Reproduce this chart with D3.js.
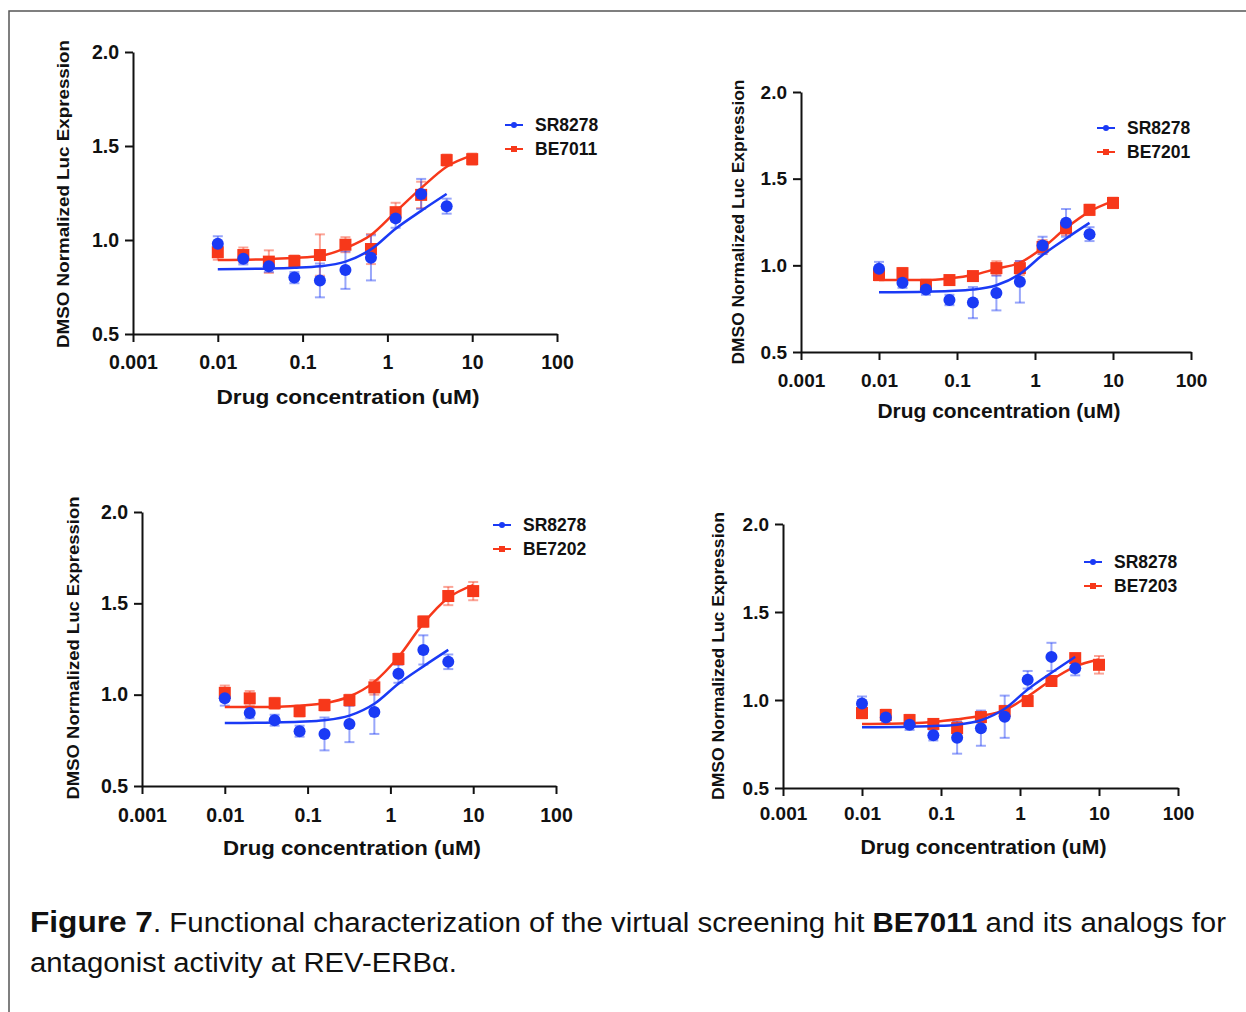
<!DOCTYPE html>
<html>
<head>
<meta charset="utf-8">
<script src="https://cdn.jsdelivr.net/npm/d3@7"></script>
<style>
  body { margin: 0; background: #fff; }
  svg { display: block; }
</style>
</head>
<body>
<svg id="fig" width="1246" height="1012"></svg>
<script>
// Data

const conc = [0.01, 0.02, 0.04, 0.08, 0.16, 0.32, 0.64, 1.25, 2.5, 5, 10];
const xTicks = [0.001, 0.01, 0.1, 1, 10, 100];
const xTickLabels = ["0.001", "0.01", "0.1", "1", "10", "100"];
const yTicks = [0.5, 1.0, 1.5, 2.0];

// SR8278 is the same reference compound in every panel (10 doses, up to 5 uM)
const refName = "SR8278";
const refMean = [0.98, 0.90, 0.86, 0.80, 0.785, 0.84, 0.905, 1.115, 1.245, 1.18];
const refErr  = [0.04, 0.03, 0.03, 0.03, 0.09, 0.10, 0.12, 0.05, 0.08, 0.04];
const refCurve = [0.845, 0.848, 0.852, 0.86, 0.885, 0.95, 1.06, 1.155, 1.245];
const refCurveX = [0.01, 0.04, 0.08, 0.16, 0.32, 0.64, 1.25, 2.5, 5];

const names = ["BE7011", "BE7201", "BE7202", "BE7203"];

const be7011Mean = [0.935, 0.92, 0.885, 0.888, 0.92, 0.975, 0.952, 1.148, 1.24, 1.425, 1.43];
const be7011Err  = [0.04, 0.04, 0.06, 0.03, 0.11, 0.04, 0.08, 0.05, 0.07, 0.03, 0.03];
const be7011Curve = [0.893, 0.898, 0.905, 0.915, 0.957, 1.027, 1.15, 1.276, 1.39, 1.45];

const be7201Mean = [0.944, 0.955, 0.887, 0.915, 0.938, 0.984, 0.984, 1.106, 1.215, 1.32, 1.36];
const be7201Err  = [0.03, 0.03, 0.03, 0.02, 0.02, 0.04, 0.04, 0.04, 0.04, 0.03, 0.03];
const be7201Curve = [0.915, 0.915, 0.925, 0.944, 0.98, 1.015, 1.1, 1.215, 1.31, 1.37];

const be7202Mean = [1.01, 0.98, 0.953, 0.91, 0.943, 0.97, 1.04, 1.195, 1.40, 1.54, 1.567];
const be7202Err  = [0.04, 0.04, 0.03, 0.03, 0.03, 0.03, 0.04, 0.03, 0.03, 0.05, 0.05];
const be7202Curve = [0.933, 0.933, 0.94, 0.953, 0.99, 1.07, 1.206, 1.39, 1.53, 1.6];

const be7203Mean = [0.926, 0.915, 0.886, 0.864, 0.84, 0.903, 0.937, 0.994, 1.108, 1.238, 1.2];
const be7203Err  = [0.03, 0.03, 0.03, 0.02, 0.04, 0.03, 0.03, 0.02, 0.02, 0.02, 0.05];
const be7203Curve = [0.864, 0.868, 0.875, 0.89, 0.91, 0.943, 1.02, 1.114, 1.19, 1.23];

const testCurveX = [0.01, 0.04, 0.08, 0.16, 0.32, 0.64, 1.25, 2.5, 5, 10];

const testMeans = [be7011Mean, be7201Mean, be7202Mean, be7203Mean];
const testErrs = [be7011Err, be7201Err, be7202Err, be7203Err];
const testCurves = [be7011Curve, be7201Curve, be7202Curve, be7203Curve];

// Panel placement on the page
const panels = [
    {x0: 133, x1: 557, yTop: 52, yBot: 334, tickY: 362, titleY: 397, titleW: 263, ytX: 63, ytC: 194, ytW: 308, lx: 505, ly: 125, fs: 19.5},
    {x0: 801, x1: 1191, yTop: 92, yBot: 352, tickY: 380, titleY: 411, titleW: 243, ytX: 738, ytC: 222, ytW: 285, lx: 1097, ly: 128, fs: 19},
    {x0: 142, x1: 556, yTop: 512, yBot: 786, tickY: 815, titleY: 848, titleW: 258, ytX: 73, ytC: 648, ytW: 303, lx: 493, ly: 525, fs: 19.5},
    {x0: 783, x1: 1178, yTop: 524, yBot: 788, tickY: 813, titleY: 847, titleW: 246, ytX: 718, ytC: 656, ytW: 288, lx: 1084, ly: 562, fs: 19}
];

const blue = "#1a3af5";
const red = "#f7381a";
const font = "'Liberation Sans', Arial, sans-serif";

const svg = d3.select("#fig");

// frame
svg.append("rect")
    .attr("x", 9).attr("y", 11)
    .attr("width", 1260).attr("height", 1020)
    .attr("fill", "none")
    .attr("stroke", "#555")
    .attr("stroke-width", 1.5);

panels.forEach((p, i) => {

    const x = d3.scaleLog().domain([0.001, 100]).range([p.x0, p.x1]);
    const y = d3.scaleLinear().domain([0.5, 2.0]).range([p.yBot, p.yTop]);
    const g = svg.append("g");

    // axes
    const xAxis = g.append("g")
        .attr("transform", `translate(0,${p.yBot})`)
        .call(d3.axisBottom(x)
            .tickValues(xTicks)
            .tickFormat((d, k) => xTickLabels[k])
            .tickSize(8)
            .tickSizeOuter(0));

    xAxis.selectAll("text")
        .attr("y", p.tickY - p.yBot)
        .attr("dy", "0.35em");

    const yAxis = g.append("g")
        .attr("transform", `translate(${p.x0},0)`)
        .call(d3.axisLeft(y)
            .tickValues(yTicks)
            .tickFormat(d3.format(".1f"))
            .tickSize(8)
            .tickPadding(6)
            .tickSizeOuter(0));

    [xAxis, yAxis].forEach(a => {
        a.select(".domain").attr("stroke", "#111").attr("stroke-width", 2);
        a.selectAll(".tick line").attr("stroke", "#111").attr("stroke-width", 2);
        a.selectAll("text")
            .attr("fill", "#111")
            .style("font-family", font)
            .style("font-weight", "bold")
            .style("font-size", p.fs + "px");
    });

    // axis titles
    g.append("text")
        .attr("x", (x(0.01) + x(10)) / 2 + 3)
        .attr("y", p.titleY)
        .attr("dy", "0.35em")
        .attr("text-anchor", "middle")
        .attr("textLength", p.titleW)
        .attr("lengthAdjust", "spacingAndGlyphs")
        .style("font-family", font)
        .style("font-weight", "bold")
        .style("font-size", "21px")
        .attr("fill", "#111")
        .text("Drug concentration (uM)");

    g.append("text")
        .attr("transform", `translate(${p.ytX},${p.ytC}) rotate(-90)`)
        .attr("dy", "0.35em")
        .attr("text-anchor", "middle")
        .attr("textLength", p.ytW)
        .attr("lengthAdjust", "spacingAndGlyphs")
        .style("font-family", font)
        .style("font-weight", "bold")
        .style("font-size", "17px")
        .attr("fill", "#111")
        .text("DMSO Normalized Luc Expression");

    const line = d3.line()
        .x(d => x(d[0]))
        .y(d => y(d[1]))
        .curve(d3.curveMonotoneX);

    const series = [
        {mean: testMeans[i], err: testErrs[i], curve: d3.zip(testCurveX, testCurves[i]), color: red, shape: "square"},
        {mean: refMean, err: refErr, curve: d3.zip(refCurveX, refCurve), color: blue, shape: "circle"}
    ];

    // error bars first, faded
    series.forEach(s => {
        const pts = s.mean.map((m, k) => ({c: conc[k], m: m, e: s.err[k]}));
        const eb = g.append("g")
            .attr("stroke", s.color)
            .attr("stroke-opacity", 0.45)
            .attr("stroke-width", 2);
        pts.forEach(d => {
            eb.append("line")
                .attr("x1", x(d.c)).attr("x2", x(d.c))
                .attr("y1", y(d.m - d.e)).attr("y2", y(d.m + d.e));
            [d.m - d.e, d.m + d.e].forEach(v => {
                eb.append("line")
                    .attr("x1", x(d.c) - 5).attr("x2", x(d.c) + 5)
                    .attr("y1", y(v)).attr("y2", y(v));
            });
        });
    });

    series.forEach(s => {
        g.append("path")
            .datum(s.curve)
            .attr("fill", "none")
            .attr("stroke", s.color)
            .attr("stroke-width", 2.5)
            .attr("d", line);

        const pts = s.mean.map((m, k) => ({c: conc[k], m: m}));
        if (s.shape === "circle") {
            g.selectAll(null)
                .data(pts)
                .join("circle")
                .attr("cx", d => x(d.c))
                .attr("cy", d => y(d.m))
                .attr("r", 6)
                .attr("fill", s.color);
        } else {
            g.selectAll(null)
                .data(pts)
                .join("rect")
                .attr("x", d => x(d.c) - 6)
                .attr("y", d => y(d.m) - 6)
                .attr("width", 12)
                .attr("height", 12)
                .attr("fill", s.color);
        }
    });

    // legend
    const legend = [
        {name: refName, color: blue, shape: "circle"},
        {name: names[i], color: red, shape: "square"}
    ];
    legend.forEach((d, k) => {
        const ly = p.ly + k * 24;
        g.append("line")
            .attr("x1", p.lx).attr("x2", p.lx + 18)
            .attr("y1", ly).attr("y2", ly)
            .attr("stroke", d.color)
            .attr("stroke-width", 2);
        if (d.shape === "circle") {
            g.append("circle")
                .attr("cx", p.lx + 9).attr("cy", ly).attr("r", 3)
                .attr("fill", d.color);
        } else {
            g.append("rect")
                .attr("x", p.lx + 6).attr("y", ly - 3)
                .attr("width", 6).attr("height", 6)
                .attr("fill", d.color);
        }
        g.append("text")
            .attr("x", p.lx + 30)
            .attr("y", ly)
            .attr("dy", "0.35em")
            .style("font-family", font)
            .style("font-weight", "bold")
            .style("font-size", "17.5px")
            .attr("fill", "#111")
            .text(d.name);
    });
});

// caption
const cap1 = svg.append("text")
    .attr("x", 30).attr("y", 932)
    .attr("textLength", 1196)
    .attr("lengthAdjust", "spacingAndGlyphs")
    .style("font-family", font)
    .style("font-size", "27px")
    .attr("fill", "#111");
cap1.append("tspan").style("font-weight", "bold").style("font-size", "29px").text("Figure 7");
cap1.append("tspan").text(". Functional characterization of the virtual screening hit ");
cap1.append("tspan").style("font-weight", "bold").text("BE7011");
cap1.append("tspan").text(" and its analogs for");

svg.append("text")
    .attr("x", 30).attr("y", 972)
    .attr("textLength", 427)
    .attr("lengthAdjust", "spacingAndGlyphs")
    .style("font-family", font)
    .style("font-size", "27px")
    .attr("fill", "#111")
    .text("antagonist activity at REV-ERBα.");
</script>
</body>
</html>
